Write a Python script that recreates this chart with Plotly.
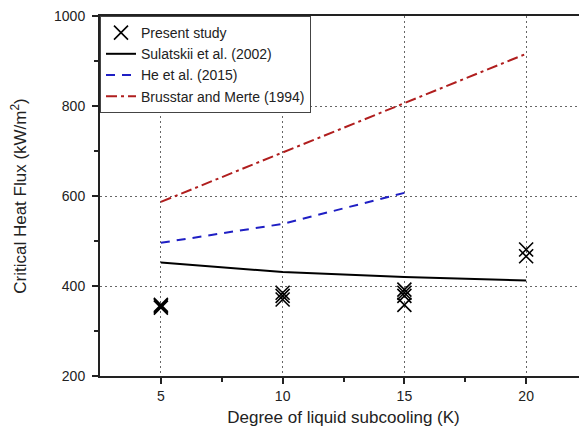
import plotly.graph_objects as go

# Data
present_x = [5, 5, 5, 10, 10, 10, 15, 15, 15, 15, 20, 20]
present_y = [352, 358, 355, 385, 370, 378, 392, 385, 378, 358, 481, 466]

sulatskii_x = [5, 10, 15, 20]
sulatskii_y = [452, 431, 420, 412]

he_x = [5, 10, 15]
he_y = [496, 538, 607]

brusstar_x = [5, 10, 15, 20]
brusstar_y = [587, 697, 806, 916]

x_ticks = [5, 10, 15, 20]
y_ticks = [200, 400, 600, 800, 1000]

fig = go.Figure()
fig.add_trace(go.Scatter(
    x=present_x, y=present_y, mode="markers", name="Present study",
    marker=dict(symbol="x-thin-open", size=14, color="black",
                line=dict(width=1.6, color="black"))))
fig.add_trace(go.Scatter(
    x=sulatskii_x, y=sulatskii_y, mode="lines", name="Sulatskii et al. (2002)",
    line=dict(color="black", width=2)))
fig.add_trace(go.Scatter(
    x=he_x, y=he_y, mode="lines", name="He et al. (2015)",
    line=dict(color="#1f1fc4", width=2, dash="9px,7px")))
fig.add_trace(go.Scatter(
    x=brusstar_x, y=brusstar_y, mode="lines", name="Brusstar and Merte (1994)",
    line=dict(color="#b01e1e", width=2, dash="11px,4px,3px,4px")))

FONT = "Liberation Sans, Arial, sans-serif"
axis_font = dict(family=FONT, size=14, color="#222")
fig.update_layout(
    width=579, height=424,
    margin=dict(l=92, r=0, t=8, b=56),
    paper_bgcolor="white", plot_bgcolor="white",
    font=dict(family=FONT, color="#222"),
    showlegend=True,
    legend=dict(x=0, y=1, xanchor="left", yanchor="top",
                bordercolor="#444", borderwidth=1, bgcolor="white",
                font=dict(size=14, color="#222"),
                tracegroupgap=0, itemwidth=30),
)
fig.update_xaxes(
    range=[2.5, 22.5], tickvals=x_ticks, ticktext=[str(v) for v in x_ticks],
    ticks="outside", ticklen=6, tickwidth=2, tickcolor="#222",
    showline=True, linecolor="#222", linewidth=2, mirror=True,
    showgrid=True, gridcolor="#666", griddash="2px,3px", gridwidth=1,
    minor=dict(tickvals=[7.5, 12.5, 17.5], ticks="outside", ticklen=4,
               tickwidth=2, tickcolor="#222", showgrid=False),
    tickfont=axis_font, zeroline=False,
    title=dict(text="Degree of liquid subcooling (K)",
               font=dict(size=17, color="#222"), standoff=8),
)
fig.update_yaxes(
    range=[200, 1000], tickvals=y_ticks, ticktext=[str(v) for v in y_ticks],
    ticks="outside", ticklen=6, tickwidth=2, tickcolor="#222",
    showline=True, linecolor="#222", linewidth=2, mirror=False,
    showgrid=True, gridcolor="#666", griddash="2px,3px", gridwidth=1,
    minor=dict(tickvals=[300, 500, 700, 900], ticks="outside", ticklen=4,
               tickwidth=2, tickcolor="#222", showgrid=False),
    tickfont=axis_font, zeroline=False, ticklabeloverflow="allow",
    ticklabelstandoff=4,
    title=dict(text="Critical Heat Flux (kW/m<sup>2</sup>)",
               font=dict(size=17, color="#222"), standoff=32),
)

fig.write_html("out.html")
